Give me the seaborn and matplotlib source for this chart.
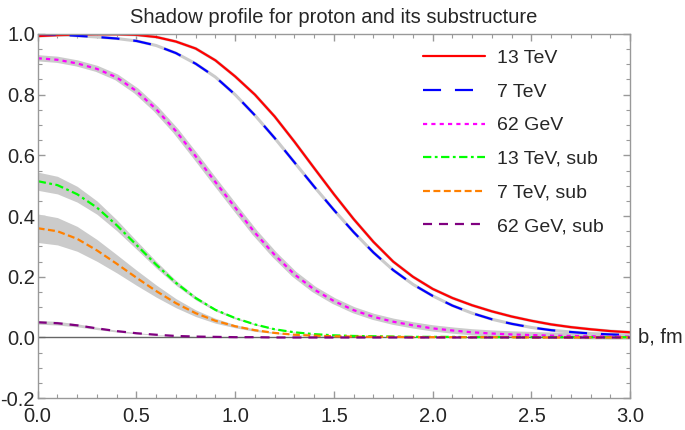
import numpy as np
import matplotlib.pyplot as plt
import seaborn as sns
from matplotlib.ticker import MultipleLocator, FormatStrFormatter

# impact parameter grid, fm
b = [0.0, 0.1, 0.2, 0.3, 0.4, 0.5, 0.6, 0.7, 0.8, 0.9, 1.0,
     1.1, 1.2, 1.3, 1.4, 1.5, 1.6, 1.7, 1.8, 1.9, 2.0,
     2.1, 2.2, 2.3, 2.4, 2.5, 2.6, 2.7, 2.8, 2.9, 3.0]

p13 = [0.993, 0.996, 0.998, 0.999, 0.999, 0.997, 0.990, 0.975, 0.952, 0.913, 0.860,
       0.800, 0.728, 0.645, 0.558, 0.472, 0.390, 0.315, 0.250, 0.200, 0.160,
       0.130, 0.106, 0.086, 0.069, 0.055, 0.043, 0.034, 0.027, 0.021, 0.017]
p7 = [1.000, 0.998, 0.994, 0.990, 0.985, 0.977, 0.962, 0.937, 0.902, 0.858, 0.800,
      0.732, 0.657, 0.577, 0.497, 0.420, 0.347, 0.280, 0.222, 0.175, 0.137,
      0.105, 0.080, 0.060, 0.045, 0.033, 0.024, 0.018, 0.013, 0.010, 0.008]
p62 = [0.920, 0.915, 0.903, 0.885, 0.857, 0.812, 0.752, 0.680, 0.597, 0.512, 0.428,
       0.345, 0.272, 0.208, 0.158, 0.120, 0.090, 0.068, 0.052, 0.040, 0.030,
       0.023, 0.017, 0.013, 0.010, 0.008, 0.006, 0.005, 0.004, 0.003, 0.003]
s13 = [0.515, 0.502, 0.472, 0.428, 0.370, 0.305, 0.240, 0.180, 0.130, 0.091, 0.064,
       0.043, 0.027, 0.017, 0.011, 0.007, 0.005, 0.004, 0.003, 0.002, 0.002,
       0.002, 0.001, 0.001, 0.001, 0.001, 0.001, 0.001, 0.001, 0.001, 0.001]
s7 = [0.360, 0.350, 0.325, 0.287, 0.243, 0.197, 0.153, 0.113, 0.080, 0.055, 0.037,
      0.024, 0.015, 0.009, 0.006, 0.004, 0.003, 0.002, 0.002, 0.001, 0.001,
      0.001, 0.001, 0.001, 0.001, 0.000, 0.000, 0.000, 0.000, 0.000, 0.000]
s62 = [0.050, 0.047, 0.040, 0.030, 0.021, 0.014, 0.009, 0.005, 0.003, 0.002, 0.001,
       0.001, 0.000, 0.000, 0.000, 0.000, 0.000, 0.000, 0.000, 0.000, 0.000,
       0.000, 0.000, 0.000, 0.000, 0.000, 0.000, 0.000, 0.000, 0.000, 0.000]

# half-widths of the grey uncertainty bands
s13_err = [0.030, 0.029, 0.026, 0.022, 0.018, 0.014, 0.011, 0.008, 0.006, 0.004, 0.003,
           0.002, 0.001, 0.001, 0.001, 0.000, 0.000, 0.000, 0.000, 0.000, 0.000,
           0.000, 0.000, 0.000, 0.000, 0.000, 0.000, 0.000, 0.000, 0.000, 0.000]
s7_err = [0.047, 0.045, 0.041, 0.036, 0.030, 0.025, 0.020, 0.015, 0.011, 0.008, 0.005,
          0.004, 0.002, 0.001, 0.001, 0.000, 0.000, 0.000, 0.000, 0.000, 0.000,
          0.000, 0.000, 0.000, 0.000, 0.000, 0.000, 0.000, 0.000, 0.000, 0.000]
s62_err = [0.006, 0.006, 0.005, 0.004, 0.003, 0.002, 0.001, 0.001, 0.000, 0.000, 0.000,
           0.000, 0.000, 0.000, 0.000, 0.000, 0.000, 0.000, 0.000, 0.000, 0.000,
           0.000, 0.000, 0.000, 0.000, 0.000, 0.000, 0.000, 0.000, 0.000, 0.000]

labels = ["13 TeV", "7 TeV", "62 GeV", "13 TeV, sub", "7 TeV, sub", "62 GeV, sub"]

sns.set_style("ticks")
plt.rcParams['font.family'] = ['Liberation Sans', 'DejaVu Sans']
plt.rcParams['lines.scale_dashes'] = False
plt.rcParams['axes.unicode_minus'] = False

fig, ax = plt.subplots(figsize=(6.85, 4.3), dpi=100)
fig.subplots_adjust(left=0.055, right=0.92, top=0.921, bottom=0.074)

band = '#cbcbcb'
for y, e in [(s13, s13_err), (s7, s7_err), (s62, s62_err)]:
    y = np.array(y); e = np.array(e)
    ax.fill_between(b, y - e, y + e, color=band, lw=0)
# thin grey bands of the full profiles
sns.lineplot(x=b, y=p62, color=band, lw=4.5, ax=ax)
sns.lineplot(x=b, y=p7, color=band, lw=2.2, ax=ax)
sns.lineplot(x=b, y=p13, color=band, lw=2.2, ax=ax)

ax.axhline(0, color='#666666', lw=1)

styles = [
    (p13, '#ff0000', '-'),
    (p7, '#0000ff', (0, (13, 10))),
    (p62, '#ff00ff', (0, (3, 3))),
    (s13, '#00ff00', (0, (6, 2.5, 2, 2.5))),
    (s7, '#ff8000', (0, (5, 2.5))),
    (s62, '#800080', (0, (6.5, 5))),
]
for (y, c, ls), lab in zip(styles, labels):
    sns.lineplot(x=b, y=y, color=c, lw=1.6, linestyle=ls, label=lab, ax=ax)

ax.set_xlim(0, 3)
ax.set_ylim(-0.2, 1.0)
ax.xaxis.set_major_locator(MultipleLocator(0.5))
ax.xaxis.set_minor_locator(MultipleLocator(0.1))
ax.yaxis.set_major_locator(MultipleLocator(0.2))
ax.yaxis.set_minor_locator(MultipleLocator(0.05))
ax.xaxis.set_major_formatter(FormatStrFormatter('%.1f'))
ax.yaxis.set_major_formatter(FormatStrFormatter('%.1f'))
ax.tick_params(which='both', direction='in', top=True, right=True,
               color='#999999', labelsize=14.5)
ax.tick_params(axis='x', pad=6)
ax.tick_params(axis='y', pad=2)
ax.tick_params(which='major', length=5, width=1)
ax.tick_params(which='minor', length=3, width=0.8)
for s in ax.spines.values():
    s.set_color('#999999')
    s.set_linewidth(1)

ax.set_title("Shadow profile for proton and its substructure", fontsize=14.5, pad=8)
ax.annotate("b, fm", xy=(1, 0), xycoords=('axes fraction', 'data'),
            xytext=(8, 0), textcoords='offset pixels', va='center', ha='left',
            fontsize=14.5, annotation_clip=False)

ax.legend(loc='upper left', bbox_to_anchor=(0.65, 0.957), frameon=False,
          fontsize=14, handlelength=3.2, handletextpad=0.62,
          labelspacing=0.82, borderpad=0, borderaxespad=0)

fig.savefig("out.png", dpi=100)
